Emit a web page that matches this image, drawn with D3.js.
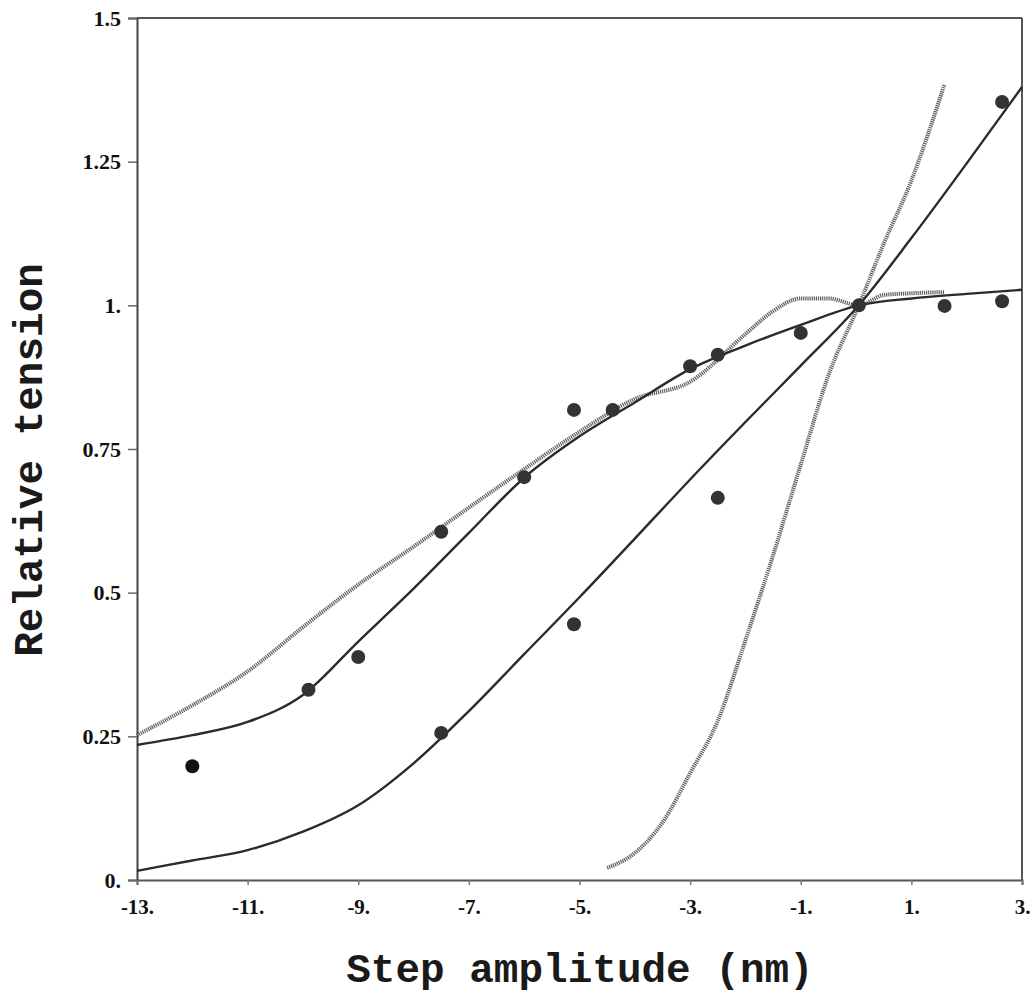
<!DOCTYPE html>
<html>
<head>
<meta charset="utf-8">
<script src="https://cdn.jsdelivr.net/npm/d3@7"></script>
<style>
    body { margin: 0; background: #fff; }
    svg { display: block; }
</style>
</head>
<body>
<div id="chart"></div>
<script>
// Axis ticks
const xTicks = [-13, -11, -9, -7, -5, -3, -1, 1, 3];
const yTicks = [0, 0.25, 0.5, 0.75, 1, 1.25, 1.5];

// Solid curve, steepest (ends top right)
const solidAX = [-13, -12, -11, -10, -9, -8, -7, -6, -5, -4, -3, -2, -1, 0.05, 1, 2, 3];
const solidAY = [0.016, 0.034, 0.052, 0.084, 0.13, 0.203, 0.294, 0.393, 0.492, 0.594, 0.697, 0.797, 0.895, 1.0, 1.117, 1.247, 1.38];

// Solid curve that flattens past zero
const solidBX = [-13, -12, -11, -10, -9, -8, -7, -6, -5, -4, -3, -2, -1, 0.05, 1, 2, 3];
const solidBY = [0.235, 0.252, 0.275, 0.322, 0.415, 0.507, 0.604, 0.70, 0.772, 0.831, 0.889, 0.93, 0.966, 1.0, 1.012, 1.02, 1.027];

// Hatched curve with plateau near -1
const hatchCX = [-13, -12, -11, -10, -9, -8, -7, -6, -5, -4, -3, -2, -1.5, -1, -0.5, 0.05, 0.5, 1, 1.6];
const hatchCY = [0.252, 0.304, 0.363, 0.44, 0.514, 0.58, 0.648, 0.715, 0.78, 0.837, 0.867, 0.95, 0.99, 1.012, 1.012, 1.0, 1.018, 1.021, 1.023];

// Steep hatched curve
const hatchDX = [-4.5, -4.0, -3.5, -3.0, -2.5, -2.0, -1.5, -1.0, -0.5, 0.05, 0.5, 1.0, 1.6];
const hatchDY = [0.021, 0.047, 0.10, 0.186, 0.277, 0.417, 0.565, 0.723, 0.878, 1.0, 1.107, 1.217, 1.385];

// Measured points
const dotX = [-12, -9.9, -9, -7.5, -7.5, -6, -5.1, -5.1, -4.4, -3, -2.5, -2.5, -1, 0.05, 1.6, 2.64, 2.64];
const dotY = [0.198, 0.331, 0.388, 0.606, 0.256, 0.701, 0.818, 0.445, 0.818, 0.894, 0.914, 0.665, 0.952, 1.0, 0.999, 1.007, 1.354];

const width = 1032;
const height = 994;
const plotLeft = 137, plotRight = 1022, plotTop = 18, plotBottom = 880;

const svg = d3.select('#chart')
    .append('svg')
    .attr('width', width)
    .attr('height', height);

const x = d3.scaleLinear().domain([-13, 3]).range([plotLeft, plotRight]);
const y = d3.scaleLinear().domain([0, 1.5]).range([plotBottom, plotTop]);

// tick labels look like "0.", "1.25", "-13."
const fmt = d => Number.isInteger(d) ? d + '.' : String(d);

const tickFont = '"Liberation Serif", "DejaVu Serif", serif';
const titleFont = '"Liberation Mono", "Courier New", monospace';

// Frame
const frame = svg.append('g')
    .attr('stroke', '#555')
    .attr('stroke-width', 2)
    .attr('fill', 'none');
frame.append('line').attr('x1', plotLeft).attr('y1', plotTop).attr('x2', plotRight).attr('y2', plotTop);
frame.append('line').attr('x1', plotRight).attr('y1', plotTop).attr('x2', plotRight).attr('y2', plotBottom);

// Y axis
const yAxis = svg.append('g')
    .attr('transform', `translate(${plotLeft},0)`)
    .call(d3.axisLeft(y).tickValues(yTicks).tickFormat(fmt).tickSize(9).tickPadding(7));
yAxis.select('.domain').attr('stroke', '#444').attr('stroke-width', 2);
yAxis.selectAll('.tick line').attr('stroke', '#666').attr('stroke-width', 1.5);
yAxis.selectAll('text')
    .style('font-family', tickFont)
    .style('font-weight', 'bold')
    .style('font-size', '22px')
    .attr('fill', '#111');

// X axis
const xAxis = svg.append('g')
    .attr('transform', `translate(0,${plotBottom})`)
    .call(d3.axisBottom(x).tickValues(xTicks).tickFormat(fmt).tickSize(5).tickPadding(14));
xAxis.select('.domain').attr('stroke', '#555').attr('stroke-width', 2);
xAxis.selectAll('.tick line').attr('stroke', '#777').attr('stroke-width', 1.5);
xAxis.selectAll('text')
    .style('font-family', tickFont)
    .style('font-weight', 'bold')
    .style('font-size', '21px')
    .attr('fill', '#111');

// Curves
const line = d3.line()
    .x(d => x(d[0]))
    .y(d => y(d[1]))
    .curve(d3.curveMonotoneX);

const series = [
    { xs: hatchCX, ys: hatchCY, hatched: true },
    { xs: hatchDX, ys: hatchDY, hatched: true },
    { xs: solidAX, ys: solidAY, hatched: false },
    { xs: solidBX, ys: solidBY, hatched: false }
];

svg.append('g')
    .selectAll('path')
    .data(series)
    .enter()
    .append('path')
    .attr('d', s => line(s.xs.map((v, i) => [v, s.ys[i]])))
    .attr('fill', 'none')
    .attr('stroke', s => s.hatched ? '#5e5e5e' : '#2b2b2b')
    .attr('stroke-width', s => s.hatched ? 4 : 2.4)
    .attr('stroke-dasharray', s => s.hatched ? '1.2 0.9' : null);

// Points
svg.append('g')
    .selectAll('circle')
    .data(dotX.map((v, i) => [v, dotY[i]]))
    .enter()
    .append('circle')
    .attr('cx', d => x(d[0]))
    .attr('cy', d => y(d[1]))
    .attr('r', 7)
    .attr('fill', (d, i) => i === 0 ? '#111' : '#333');

// Axis titles
svg.append('text')
    .attr('x', 580)
    .attr('y', 982)
    .attr('text-anchor', 'middle')
    .attr('font-family', titleFont)
    .attr('font-weight', 'bold')
    .attr('font-size', 41)
    .attr('fill', '#1a1a1a')
    .text('Step amplitude (nm)');

svg.append('text')
    .attr('transform', 'translate(42,460) rotate(-90)')
    .attr('text-anchor', 'middle')
    .attr('font-family', titleFont)
    .attr('font-weight', 'bold')
    .attr('font-size', 41)
    .attr('fill', '#1a1a1a')
    .text('Relative tension');
</script>
</body>
</html>
